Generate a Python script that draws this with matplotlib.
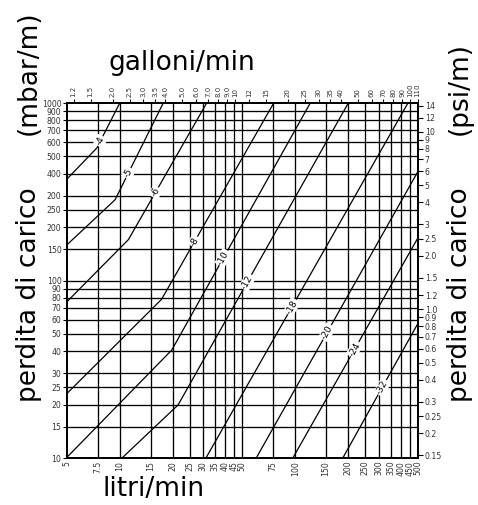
import numpy as np
import matplotlib
matplotlib.use("Agg")
import matplotlib.pyplot as plt
from matplotlib.ticker import NullLocator

# ---------------- data ----------------
flow_ticks = [5, 7.5, 10, 15, 20, 25, 30, 35, 40, 45, 50, 75, 100, 150, 200, 250, 300, 350, 400, 450, 500]
flow_labels = ["5", "7.5", "10", "15", "20", "25", "30", "35", "40", "45", "50", "75", "100",
               "150", "200", "250", "300", "350", "400", "450", "500"]
gal_ticks = [1.2, 1.5, 2.0, 2.5, 3.0, 3.5, 4.0, 5.0, 6.0, 7.0, 8.0, 9.0, 10, 12, 15, 20, 25,
             30, 35, 40, 50, 60, 70, 80, 90, 100, 110]
gal_labels = ["1.2", "1.5", "2.0", "2.5", "3.0", "3.5", "4.0", "5.0", "6.0", "7.0", "8.0", "9.0",
              "10", "12", "15", "20", "25", "30", "35", "40", "50", "60", "70", "80", "90", "100", "110"]
mbar_ticks = [1000, 900, 800, 700, 600, 500, 400, 300, 250, 200, 150, 100, 90, 80, 70, 60, 50,
              40, 30, 25, 20, 15, 10]
mbar_labels = ["1000", "900", "800", "700", "600", "500", "400", "200", "250", "200", "150", "100",
               "90", "80", "70", "60", "50", "40", "30", "25", "20", "15", "10"]
psi_ticks = [14, 12, 10, 9, 8, 7, 6, 5, 4, 3, 2.5, 2.0, 1.5, 1.2, 1.0, 0.9, 0.8, 0.7, 0.6, 0.5,
             0.4, 0.3, 0.25, 0.2, 0.15]
psi_labels = ["14", "12", "10", "9", "8", "7", "6", "5", "4", "3", "2.5", "2.0", "1.5", "1.2",
              "1.0", "0.9", "0.8", "0.7", "0.6", "0.5", "0.4", "0.3", "0.25", "0.2", "0.15"]

L_PER_GAL = 4.545        # imperial gallon (litri)
MBAR_PER_PSI = 68.948

size_names = ["-4", "-5", "-6", "-8", "-10", "-12", "-18", "-20", "-24", "-32"]

flow_m4 = [5, 7.4, 10.0]
drop_m4 = [373, 558, 1000]
flow_m5 = [5, 9.4, 17.7]
drop_m5 = [159, 285, 1000]
flow_m6 = [5, 11.2, 31.3]
drop_m6 = [76, 170, 1000]
flow_m8 = [5, 17.3, 75.5]
drop_m8 = [23.1, 78.3, 1000]
flow_m10 = [5, 19.8, 122]
drop_m10 = [10.1, 40.6, 1000]
flow_m12 = [10.3, 21.5, 201]
drop_m12 = [10, 19.9, 1000]
flow_m18 = [31, 440]
drop_m18 = [10, 1000]
flow_m20 = [60, 500]
drop_m20 = [10, 409]
flow_m24 = [97, 500]
drop_m24 = [10, 173]
flow_m32 = [187, 500]
drop_m32 = [10, 57]

# where along each line (mbar/m) its label sits
label_drop = [610, 403, 314, 166, 134, 98, 71, 51, 41, 25]

flows = [flow_m4, flow_m5, flow_m6, flow_m8, flow_m10, flow_m12, flow_m18, flow_m20, flow_m24, flow_m32]
drops = [drop_m4, drop_m5, drop_m6, drop_m8, drop_m10, drop_m12, drop_m18, drop_m20, drop_m24, drop_m32]

# ---------------- figure ----------------
W, H = 478, 505
fig = plt.figure(figsize=(W / 100, H / 100), dpi=100)
x0, x1, y0, y1 = 67, 417.7, 103, 458
ax = fig.add_axes([x0 / W, 1 - y1 / H, (x1 - x0) / W, (y1 - y0) / H])
ax.set_xscale("log")
ax.set_yscale("log")
ax.set_xlim(5, 500)
ax.set_ylim(10, 1000)

grid_kw = dict(color="black", lw=0.95, zorder=1)
for v in flow_ticks[1:-1]:
    ax.axvline(v, **grid_kw)
for h in mbar_ticks[1:-1]:
    ax.axhline(h, **grid_kw)

for name, fl, dr, lp in zip(size_names, flows, drops, label_drop):
    ax.plot(fl, dr, color="black", lw=0.9, zorder=2, solid_joinstyle="miter")
    lf = np.log10(fl)
    ld = np.log10(dr)
    lx = 10 ** np.interp(np.log10(lp), ld, lf)
    seg = max(0, min(len(fl) - 2, np.searchsorted(ld, np.log10(lp)) - 1))
    pa = ax.transData.transform((fl[seg], dr[seg]))
    pb = ax.transData.transform((fl[seg + 1], dr[seg + 1]))
    ang = np.degrees(np.arctan2(pb[1] - pa[1], pb[0] - pa[0]))
    ax.text(lx, lp, name, rotation=ang, rotation_mode="anchor", ha="center", va="center",
            fontsize=6.5, color="black", zorder=3,
            bbox=dict(facecolor="white", edgecolor="none", pad=0.8))

for s in ax.spines.values():
    s.set_linewidth(1.2)
    s.set_color("black")

tick_color = "#333333"
tick_fs = 5.6
ax.set_xticks(flow_ticks, flow_labels, rotation=90)
ax.xaxis.set_minor_locator(NullLocator())
ax.tick_params(axis="x", length=0, pad=2, labelsize=tick_fs, labelcolor=tick_color)
ax.set_yticks(mbar_ticks, mbar_labels)
ax.yaxis.set_minor_locator(NullLocator())
ax.tick_params(axis="y", length=3, width=0.8, pad=1, labelsize=tick_fs, labelcolor=tick_color)

axt = ax.twiny()
axt.set_xscale("log")
axt.set_xlim(5, 500)
axt.set_xticks([g * L_PER_GAL for g in gal_ticks], gal_labels, rotation=90)
axt.xaxis.set_minor_locator(NullLocator())
axt.tick_params(axis="x", length=3, width=0.8, pad=1, labelsize=5.0, labelcolor=tick_color)

axr = ax.twinx()
axr.set_yscale("log")
axr.set_ylim(10, 1000)
axr.set_yticks([p * MBAR_PER_PSI for p in psi_ticks], psi_labels)
axr.yaxis.set_minor_locator(NullLocator())
axr.tick_params(axis="y", length=3.5, width=0.8, pad=1.5, labelsize=tick_fs, labelcolor=tick_color)
for a in (axt, axr):
    for s in a.spines.values():
        s.set_linewidth(1.2)

title_fs = 19
fig.text(181.5 / W, 1 - 70 / H, "galloni/min", fontsize=title_fs, ha="center", va="baseline")
fig.text(153.4 / W, 1 - 496.5 / H, "litri/min", fontsize=title_fs, ha="center", va="baseline")
rot_kw = dict(fontsize=title_fs, rotation=90, rotation_mode="anchor", ha="left", va="baseline")
fig.text(36 / W, 1 - 402 / H, "perdita di carico", **rot_kw)
fig.text(36 / W, 1 - 135 / H, "(mbar/m)", **rot_kw)
fig.text(467 / W, 1 - 402 / H, "perdita di carico", **rot_kw)
fig.text(467 / W, 1 - 135 / H, "(psi/m)", **rot_kw)

fig.savefig("out.png", dpi=100)
